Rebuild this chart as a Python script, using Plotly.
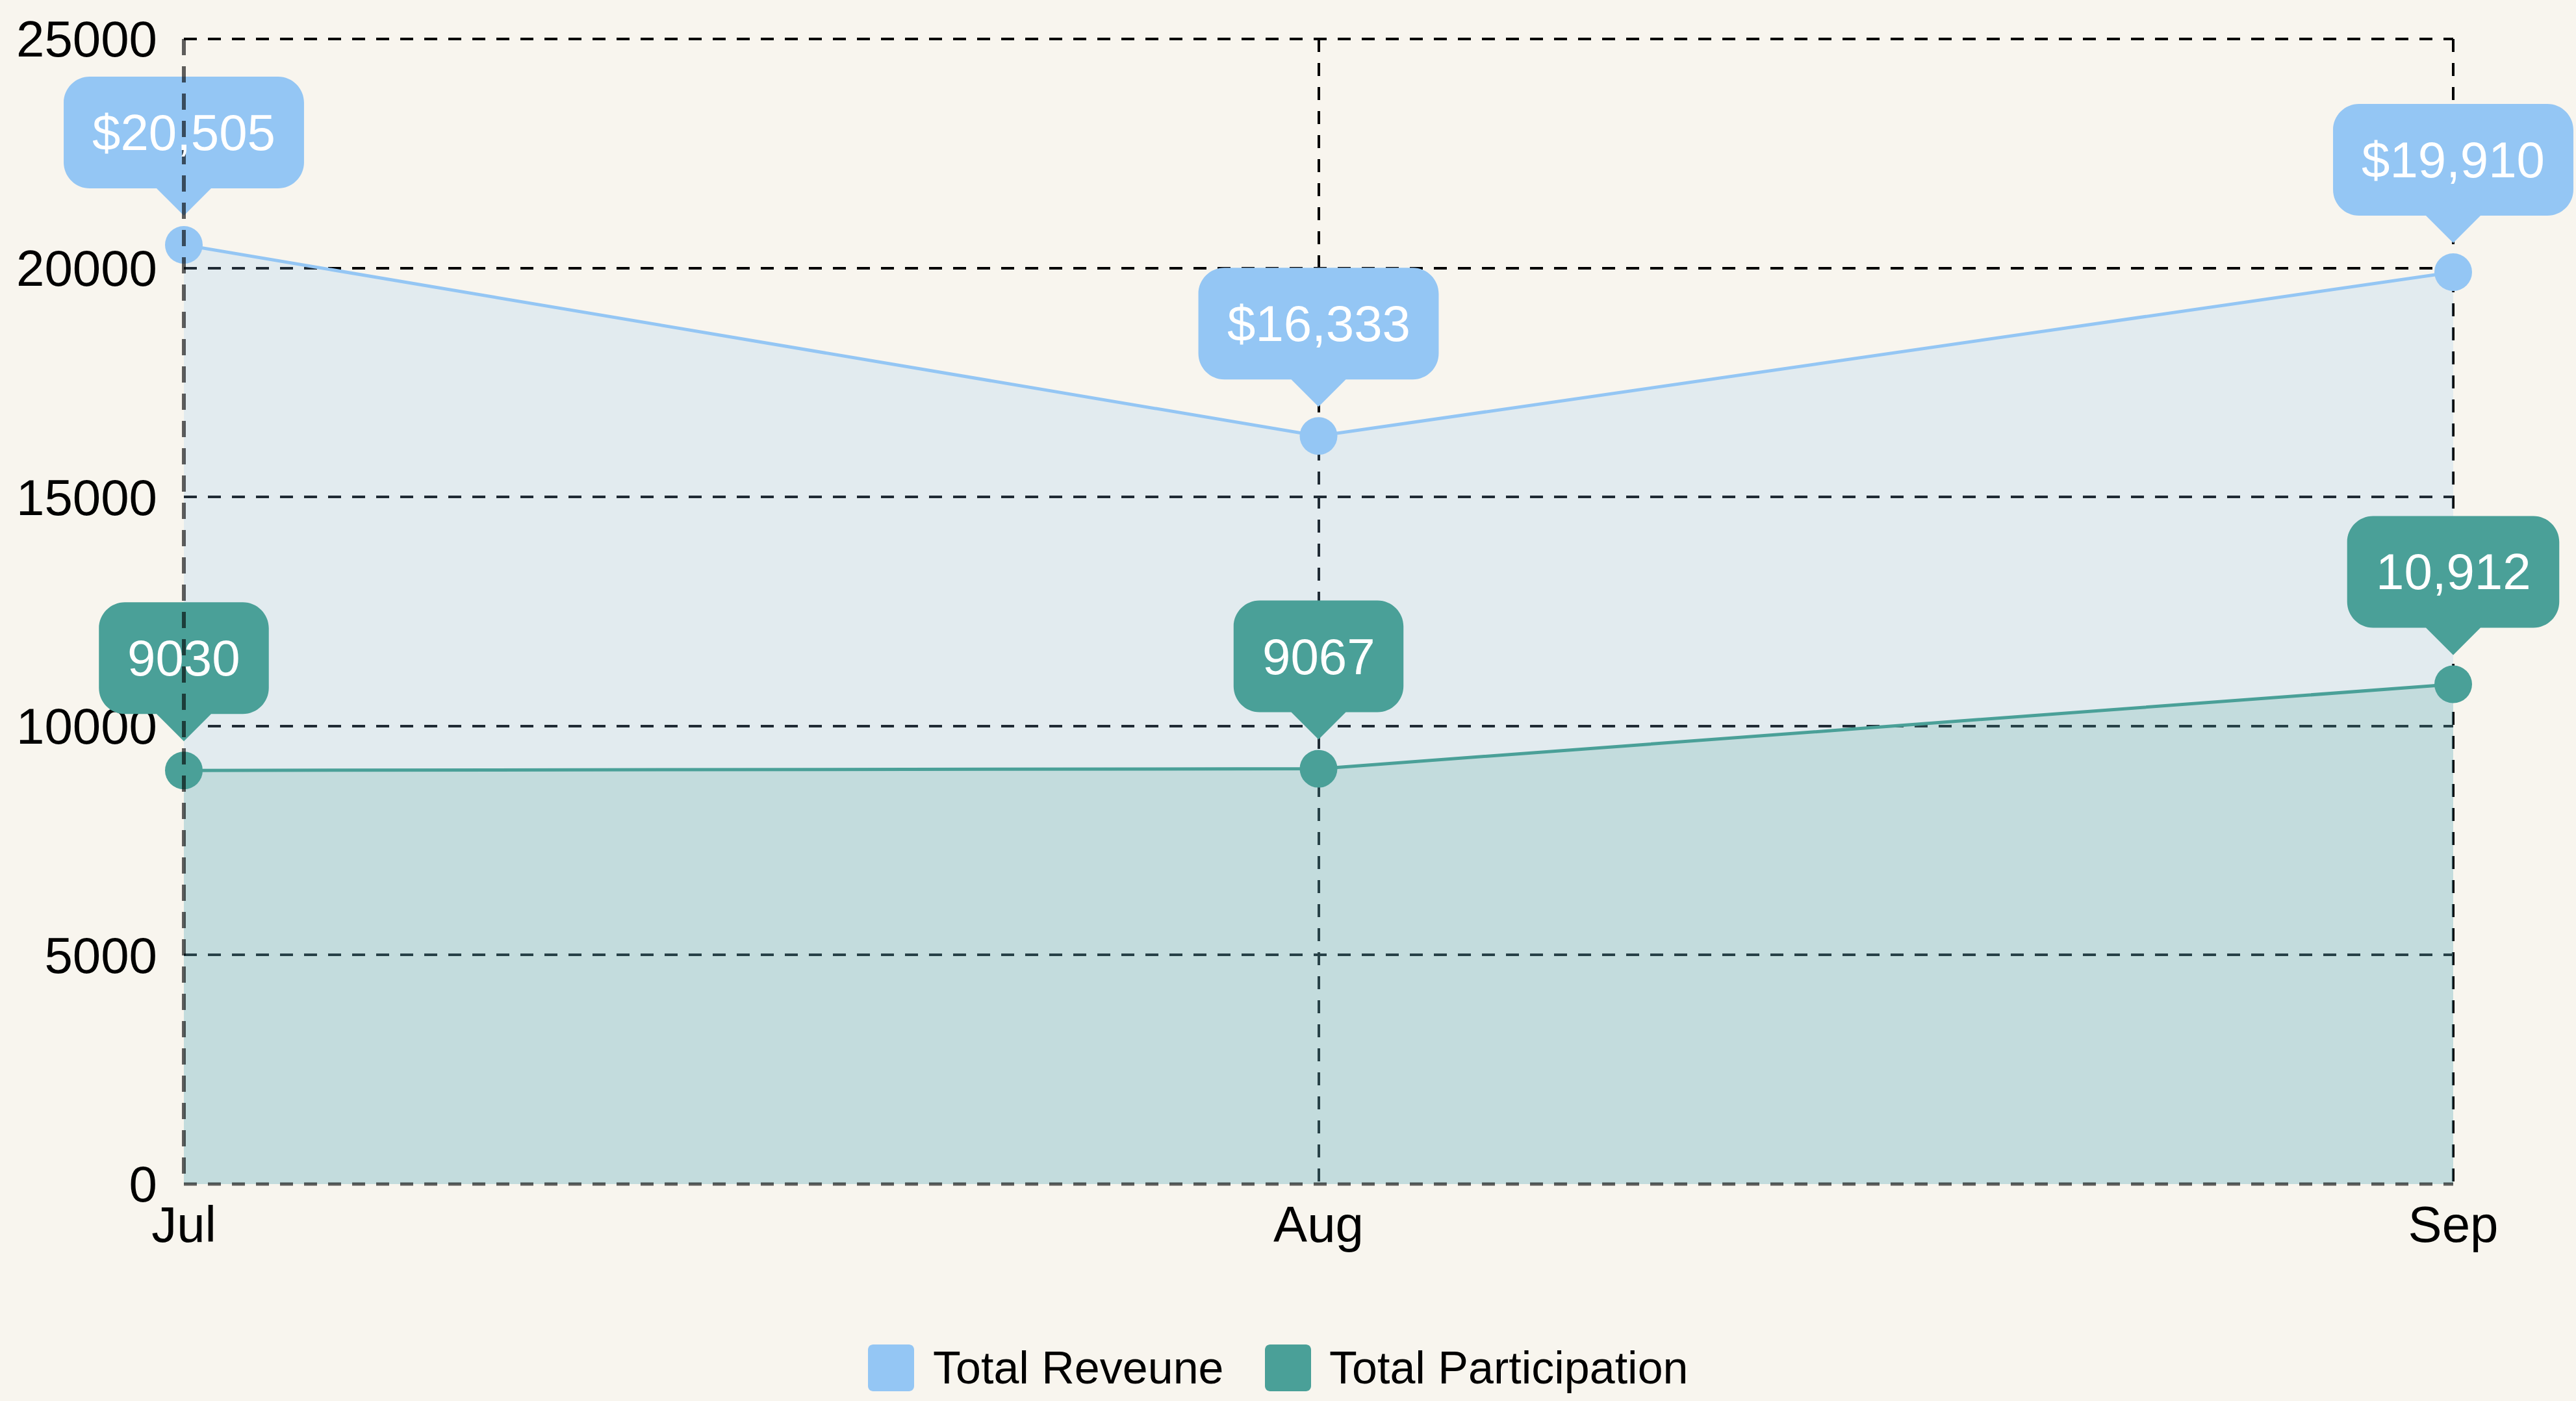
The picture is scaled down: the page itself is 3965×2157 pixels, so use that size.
import plotly.graph_objects as go

# ---------------- data ----------------
months = ["Jul", "Aug", "Sep"]
revenue = [20505, 16333, 19910]
participation = [9030, 9067, 10912]
revenue_labels = ["$20,505", "$16,333", "$19,910"]
participation_labels = ["9030", "9067", "10,912"]
y_tick_values = [0, 5000, 10000, 15000, 20000, 25000]
y_tick_labels = ["0", "5000", "10000", "15000", "20000", "25000"]
series_names = ["Total Reveune", "Total Participation"]

# ---------------- style ----------------
FIG_W, FIG_H = 3965, 2157
M_L, M_R, M_T, M_B = 283, 189, 60, 334
PLOT_W = FIG_W - M_L - M_R
PLOT_H = FIG_H - M_T - M_B

BG = "#f8f5ee"
BLUE = "#94c6f4"
TEAL = "#4aa098"
BLUE_FILL = "rgba(148,198,244,0.21)"
TEAL_FILL = "rgba(74,160,152,0.20)"
GRID = "#000000"
AXIS_GREY = "rgba(0,0,0,0.62)"
DASH = "20px,17px"
FONT = "Liberation Sans, Arial, sans-serif"
LABEL_SIZE = 78
LEGEND_SIZE = 70

CHAR_W = {",": 0.278, ".": 0.278, "$": 0.556}


def text_width(s, size):
    return sum(CHAR_W.get(c, 0.556) for c in s) * size


def paper_x(px):
    return (px - M_L) / PLOT_W


def paper_y(py):
    return (FIG_H - M_B - py) / PLOT_H


K = 0.5523


def f(v):
    return f"{v:.2f}"


def rounded_box(x0, y0, x1, y1, r, pointer=None):
    """Path in pixel units, y pointing up."""
    p = []
    if pointer:
        hb, tip = pointer
        p.append(f"M{f(-hb)},{f(y0)} L0,{f(tip)} L{f(hb)},{f(y0)}")
    else:
        p.append(f"M{f(x0 + r)},{f(y0)}")
    p.append(f"L{f(x1 - r)},{f(y0)} C{f(x1 - r + K * r)},{f(y0)} {f(x1)},{f(y0 + r - K * r)} {f(x1)},{f(y0 + r)}")
    p.append(f"L{f(x1)},{f(y1 - r)} C{f(x1)},{f(y1 - r + K * r)} {f(x1 - r + K * r)},{f(y1)} {f(x1 - r)},{f(y1)}")
    p.append(f"L{f(x0 + r)},{f(y1)} C{f(x0 + r - K * r)},{f(y1)} {f(x0)},{f(y1 - r + K * r)} {f(x0)},{f(y1 - r)}")
    p.append(f"L{f(x0)},{f(y0 + r)} C{f(x0)},{f(y0 + r - K * r)} {f(x0 + r - K * r)},{f(y0)} {f(x0 + r)},{f(y0)} Z")
    return " ".join(p)


fig = go.Figure()

for name, vals, line_c, fill_c in [
    (series_names[0], revenue, BLUE, BLUE_FILL),
    (series_names[1], participation, TEAL, TEAL_FILL),
]:
    fig.add_trace(go.Scatter(
        x=months, y=vals, name=name,
        mode="lines+markers",
        fill="tozeroy", fillcolor=fill_c,
        line=dict(color=line_c, width=5),
        marker=dict(size=58, color=line_c),
        cliponaxis=False, showlegend=False, hoverinfo="skip",
    ))

shapes = []
annotations = []

# frame lines at the top and right edge (under the data)
shapes.append(dict(type="line", layer="below", xref="paper", yref="paper",
                   x0=0, x1=1, y0=1, y1=1,
                   line=dict(color=GRID, width=4, dash=DASH)))
shapes.append(dict(type="line", layer="below", xref="paper", yref="paper",
                   x0=1, x1=1, y0=1, y1=0,
                   line=dict(color=GRID, width=4, dash=DASH)))

# callouts
BOX_BOTTOM, BOX_TOP, TIP, HALF_BASE, RADIUS, PAD = 87, 259, 45, 42, 40, 44
n = len(months)
for vals, labels, color in [
    (revenue, revenue_labels, BLUE),
    (participation, participation_labels, TEAL),
]:
    for i, (m, v, lab) in enumerate(zip(months, vals, labels)):
        hw = text_width(lab, LABEL_SIZE) / 2 + PAD
        shapes.append(dict(
            type="path", layer="above",
            xref="x domain", yref="y",
            xsizemode="pixel", ysizemode="pixel",
            xanchor=i / (n - 1), yanchor=v,
            path=rounded_box(-hw, BOX_BOTTOM, hw, BOX_TOP, RADIUS, (HALF_BASE, TIP)),
            fillcolor=color, line=dict(width=0),
        ))
        annotations.append(dict(
            x=m, y=v, xref="x", yref="y",
            yshift=(BOX_BOTTOM + BOX_TOP) / 2,
            text=lab, showarrow=False,
            xanchor="center", yanchor="middle",
            font=dict(family=FONT, size=LABEL_SIZE, color="white"),
        ))

# axis frame lines (left / bottom) drawn on top
shapes.append(dict(type="line", layer="above", xref="paper", yref="paper",
                   x0=0, x1=0, y0=1, y1=0,
                   line=dict(color=AXIS_GREY, width=6, dash="25px,17px")))
shapes.append(dict(type="line", layer="above", xref="paper", yref="paper",
                   x0=0, x1=1, y0=0, y1=0,
                   line=dict(color=AXIS_GREY, width=5, dash=DASH)))

# legend (manual)
legend_items = [
    (series_names[0], BLUE, 1336, 1434),
    (series_names[1], TEAL, 1947, 2044),
]
SW = 71
LEG_TOP, LEG_BOTTOM = 2070, 2142
for name, color, sx, tx in legend_items:
    shapes.append(dict(
        type="path", layer="above",
        xref="paper", yref="paper",
        xsizemode="pixel", ysizemode="pixel",
        xanchor=paper_x(sx), yanchor=paper_y(LEG_BOTTOM),
        path=rounded_box(0, 0, SW, LEG_BOTTOM - LEG_TOP, 8),
        fillcolor=color, line=dict(width=0),
    ))
    annotations.append(dict(
        x=paper_x(tx), y=paper_y((LEG_TOP + LEG_BOTTOM) / 2),
        xref="paper", yref="paper", showarrow=False,
        xanchor="left", yanchor="middle", text=name,
        font=dict(family=FONT, size=LEGEND_SIZE, color="black"),
    ))

fig.update_layout(
    width=FIG_W, height=FIG_H,
    margin=dict(l=M_L, r=M_R, t=M_T, b=M_B),
    paper_bgcolor=BG, plot_bgcolor=BG,
    font=dict(family=FONT, size=LABEL_SIZE, color="black"),
    showlegend=False, hovermode=False,
    shapes=shapes, annotations=annotations,
    xaxis=dict(
        type="category", categoryorder="array", categoryarray=months,
        range=[0, n - 1],
        showgrid=True, gridcolor=GRID, gridwidth=4, griddash=DASH,
        showline=False, zeroline=False, ticks="",
        tickfont=dict(family=FONT, size=LABEL_SIZE, color="black"),
        ticklabelstandoff=10,
    ),
    yaxis=dict(
        range=[0, 25000],
        tickmode="array", tickvals=y_tick_values, ticktext=y_tick_labels,
        showgrid=True, gridcolor=GRID, gridwidth=4, griddash=DASH,
        showline=False, zeroline=False, ticks="",
        tickfont=dict(family=FONT, size=LABEL_SIZE, color="black"),
        ticklabelstandoff=40,
    ),
)

fig.write_html(
    "out.html",
    config={"displayModeBar": False},
    post_script="document.body.style.margin='0';document.body.style.overflow='hidden';",
)
